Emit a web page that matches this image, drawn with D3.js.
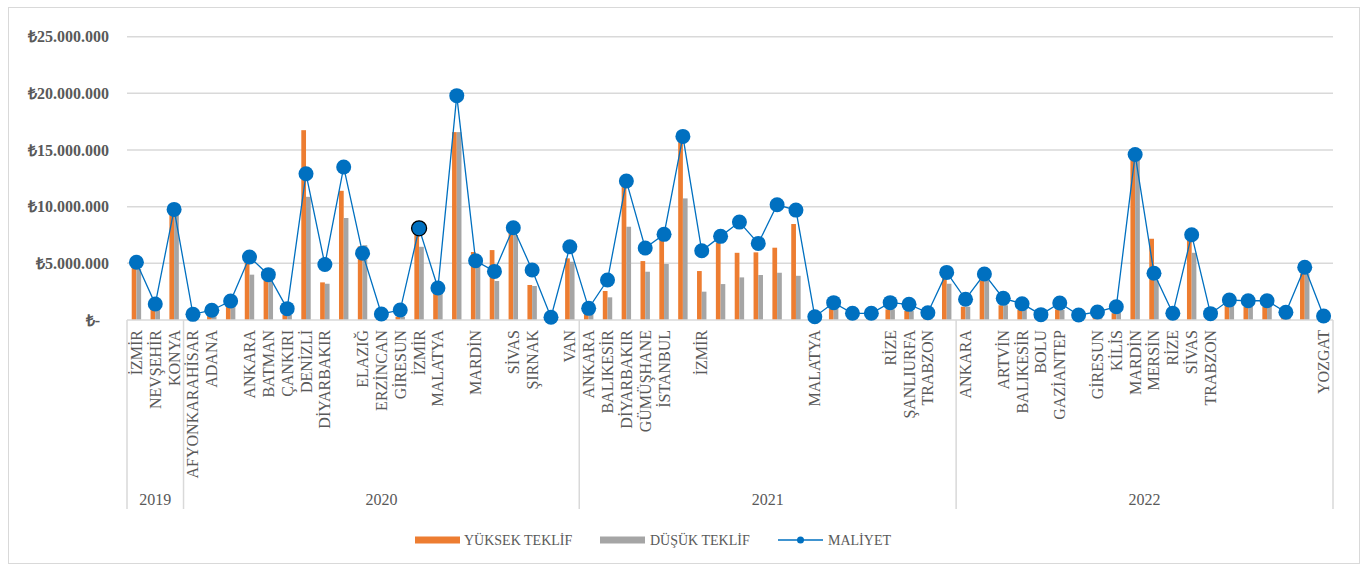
<!DOCTYPE html>
<html>
<head>
<meta charset="utf-8">
<script src="https://cdn.jsdelivr.net/npm/d3@7"></script>
<style>
  body { margin: 0; background: #fff; }
  text { font-family: "Liberation Serif", "Times New Roman", serif; fill: #595959; }
</style>
</head>
<body>
<script>
// categories (blank = same city repeated in the source sheet)
const cities = [
  'İZMİR', 'NEVŞEHİR', 'KONYA',
  'AFYONKARAHİSAR', 'ADANA', '', 'ANKARA', 'BATMAN', 'ÇANKIRI', 'DENİZLİ', 'DİYARBAKIR', '',
  'ELAZIĞ', 'ERZİNCAN', 'GİRESUN', 'İZMİR', 'MALATYA', '', 'MARDİN', '', 'SİVAS', 'ŞIRNAK', '', 'VAN',
  'ANKARA', 'BALIKESİR', 'DİYARBAKIR', 'GÜMÜŞHANE', 'İSTANBUL', '', 'İZMİR', '', '', '', '', '',
  'MALATYA', '', '', '', 'RİZE', 'ŞANLIURFA', 'TRABZON', '',
  'ANKARA', '', 'ARTVİN', 'BALIKESİR', 'BOLU', 'GAZİANTEP', '', 'GİRESUN', 'KİLİS', 'MARDİN',
  'MERSİN', 'RİZE', 'SİVAS', 'TRABZON', '', '', '', '', '', 'YOZGAT'
];
const years = ['2019', '2020', '2021', '2022'];
const yearCounts = [3, 21, 20, 20];

// values in million TL
const yuksek = [
  4.6, 1.03, 9.5,
  0.4, 0.4, 1.17, 5.1, 3.5, 0.45, 16.75, 3.32, 11.4, 6.5, 0.4, 0.3, 7.6, 2.35, 16.58, 6.0, 6.17, 7.7, 3.09, 0.2, 5.44,
  0.59, 2.56, 11.75, 5.2, 7.2, 15.7, 4.32, 6.82, 5.93, 5.97, 6.38, 8.47, 0.2, 1.0, 0.4, 0.4, 0.94, 0.8, 0.4, 3.8,
  1.17, 3.5, 1.3, 0.88, 0.3, 0.94, 0.3, 0.5, 0.6, 14.26, 7.17, 0.4, 7.05, 0.4, 1.3, 1.17, 1.17, 0.5, 4.1, 0.2
];
const dusuk = [
  4.5, 1.0, 9.3,
  0.35, 0.35, 1.17, 4.0, 3.5, 0.44, 10.87, 3.2, 9.0, 6.6, 0.3, 0.3, 6.46, 2.35, 16.58, 4.7, 3.44, 7.5, 3.0, 0.15, 5.14,
  0.55, 2.0, 8.23, 4.26, 4.94, 10.73, 2.5, 3.17, 3.76, 3.97, 4.17, 3.9, 0.2, 1.0, 0.35, 0.35, 0.94, 0.8, 0.35, 3.2,
  1.17, 3.5, 1.3, 0.88, 0.25, 0.9, 0.25, 0.45, 0.66, 14.2, 3.5, 0.35, 5.93, 0.35, 1.3, 1.2, 1.17, 0.45, 4.1, 0.15
];
const maliyet = [
  5.1, 1.41, 9.76,
  0.5, 0.86, 1.68, 5.56, 4.0, 1.0, 12.9, 4.9, 13.5, 5.9, 0.53, 0.88, 8.09, 2.82, 19.8, 5.23, 4.29, 8.14, 4.41, 0.24, 6.46,
  1.03, 3.53, 12.26, 6.35, 7.56, 16.2, 6.11, 7.38, 8.64, 6.76, 10.17, 9.7, 0.29, 1.53, 0.59, 0.59, 1.53, 1.38, 0.64, 4.2,
  1.83, 4.06, 1.91, 1.44, 0.47, 1.5, 0.44, 0.71, 1.17, 14.6, 4.12, 0.59, 7.52, 0.56, 1.76, 1.7, 1.7, 0.68, 4.65, 0.35
];
const yTicks = [0, 5e6, 10e6, 15e6, 20e6, 25e6];

const W = 1362, H = 567;
const plotL = 127, plotR = 1333, plotT = 36.7, base = 320;

const svg = d3.select('body').append('svg')
  .attr('width', W)
  .attr('height', H);

// chart border
svg.append('rect')
  .attr('x', 8.5).attr('y', 7.5)
  .attr('width', 1351).attr('height', 556)
  .attr('fill', 'none')
  .attr('stroke', '#d9d9d9');

const idx = d3.range(cities.length);
const x = d3.scaleBand().domain(idx).range([plotL, plotR]);
const xs = d3.scaleBand().domain(['y', 'd']).range([0, x.bandwidth()]).paddingOuter(1);
const y = d3.scaleLinear().domain([0, 25e6]).range([base, plotT]);

const loc = d3.formatLocale({ decimal: ',', thousands: '.', grouping: [3], currency: ['₺', ''] });
const fmt = loc.format(',');

// gridlines
svg.append('g')
  .selectAll('line')
  .data(yTicks.slice(1))
  .join('line')
  .attr('x1', plotL).attr('x2', plotR)
  .attr('y1', d => y(d)).attr('y2', d => y(d))
  .attr('stroke', '#d9d9d9')
  .attr('stroke-width', 1.5);

// y labels
svg.append('g')
  .selectAll('text')
  .data(yTicks)
  .join('text')
  .attr('x', d => d === 0 ? 100 : 109)
  .attr('y', d => y(d))
  .attr('dy', '0.35em')
  .attr('text-anchor', 'end')
  .style('font-size', '16px')
  .style('font-weight', 'bold')
  .text(d => d === 0 ? '₺-' : '₺' + fmt(d));

// bars
const bars = svg.append('g');
bars.selectAll('.hi')
  .data(yuksek)
  .join('rect')
  .attr('class', 'hi')
  .attr('x', (d, i) => x(i) + xs('y'))
  .attr('width', xs.bandwidth())
  .attr('y', d => y(d * 1e6))
  .attr('height', d => base - y(d * 1e6))
  .attr('fill', '#ED7D31');
bars.selectAll('.lo')
  .data(dusuk)
  .join('rect')
  .attr('class', 'lo')
  .attr('x', (d, i) => x(i) + xs('d'))
  .attr('width', xs.bandwidth())
  .attr('y', d => y(d * 1e6))
  .attr('height', d => base - y(d * 1e6))
  .attr('fill', '#A5A5A5');

// base axis line
svg.append('line')
  .attr('x1', plotL).attr('x2', plotR)
  .attr('y1', base).attr('y2', base)
  .attr('stroke', '#d9d9d9')
  .attr('stroke-width', 1.5);

// cost line + markers
const cx = i => x(i) + x.bandwidth() / 2;
svg.append('path')
  .datum(maliyet)
  .attr('fill', 'none')
  .attr('stroke', '#0070C0')
  .attr('stroke-width', 1.3)
  .attr('d', d3.line().x((d, i) => cx(i)).y(d => y(d * 1e6)));
svg.append('g')
  .selectAll('circle')
  .data(maliyet)
  .join('circle')
  .attr('cx', (d, i) => cx(i))
  .attr('cy', d => y(d * 1e6))
  .attr('r', 7.5)
  .attr('fill', '#0070C0')
  .attr('stroke', (d, i) => i === 15 ? '#000' : 'none')
  .attr('stroke-width', 1.3);

// category labels (rotated)
svg.append('g')
  .selectAll('text')
  .data(cities)
  .join('text')
  .attr('transform', (d, i) => `translate(${cx(i) + 5.5},330) rotate(-90)`)
  .attr('text-anchor', 'end')
  .style('font-size', '16px')
  .text(d => d);

// year groups
let start = 0;
const bounds = [0];
yearCounts.forEach(n => { start += n; bounds.push(start); });
const bx = b => b === cities.length ? plotR : x(b);
svg.append('g')
  .selectAll('line')
  .data(bounds)
  .join('line')
  .attr('x1', bx)
  .attr('x2', bx)
  .attr('y1', base).attr('y2', 509)
  .attr('stroke', '#d9d9d9')
  .attr('stroke-width', 1.5);
svg.append('g')
  .selectAll('text')
  .data(years)
  .join('text')
  .attr('x', (d, k) => (bx(bounds[k]) + bx(bounds[k + 1])) / 2)
  .attr('y', 499)
  .attr('dy', '0.35em')
  .attr('text-anchor', 'middle')
  .style('font-size', '16px')
  .text(d => d);

// legend
const lg = svg.append('g');
lg.append('rect').attr('x', 415).attr('y', 536.5).attr('width', 45).attr('height', 7).attr('fill', '#ED7D31');
lg.append('text').attr('x', 464).attr('y', 540).attr('dy', '0.35em').style('font-size', '14px').text('YÜKSEK TEKLİF');
lg.append('rect').attr('x', 600).attr('y', 536.5).attr('width', 45).attr('height', 7).attr('fill', '#A5A5A5');
lg.append('text').attr('x', 650).attr('y', 540).attr('dy', '0.35em').style('font-size', '14px').text('DÜŞÜK TEKLİF');
lg.append('line').attr('x1', 778).attr('x2', 823).attr('y1', 540).attr('y2', 540).attr('stroke', '#0070C0').attr('stroke-width', 1.3);
lg.append('circle').attr('cx', 800.5).attr('cy', 540).attr('r', 3.5).attr('fill', '#0070C0');
lg.append('text').attr('x', 828).attr('y', 540).attr('dy', '0.35em').style('font-size', '14px').text('MALİYET');
</script>
</body>
</html>
